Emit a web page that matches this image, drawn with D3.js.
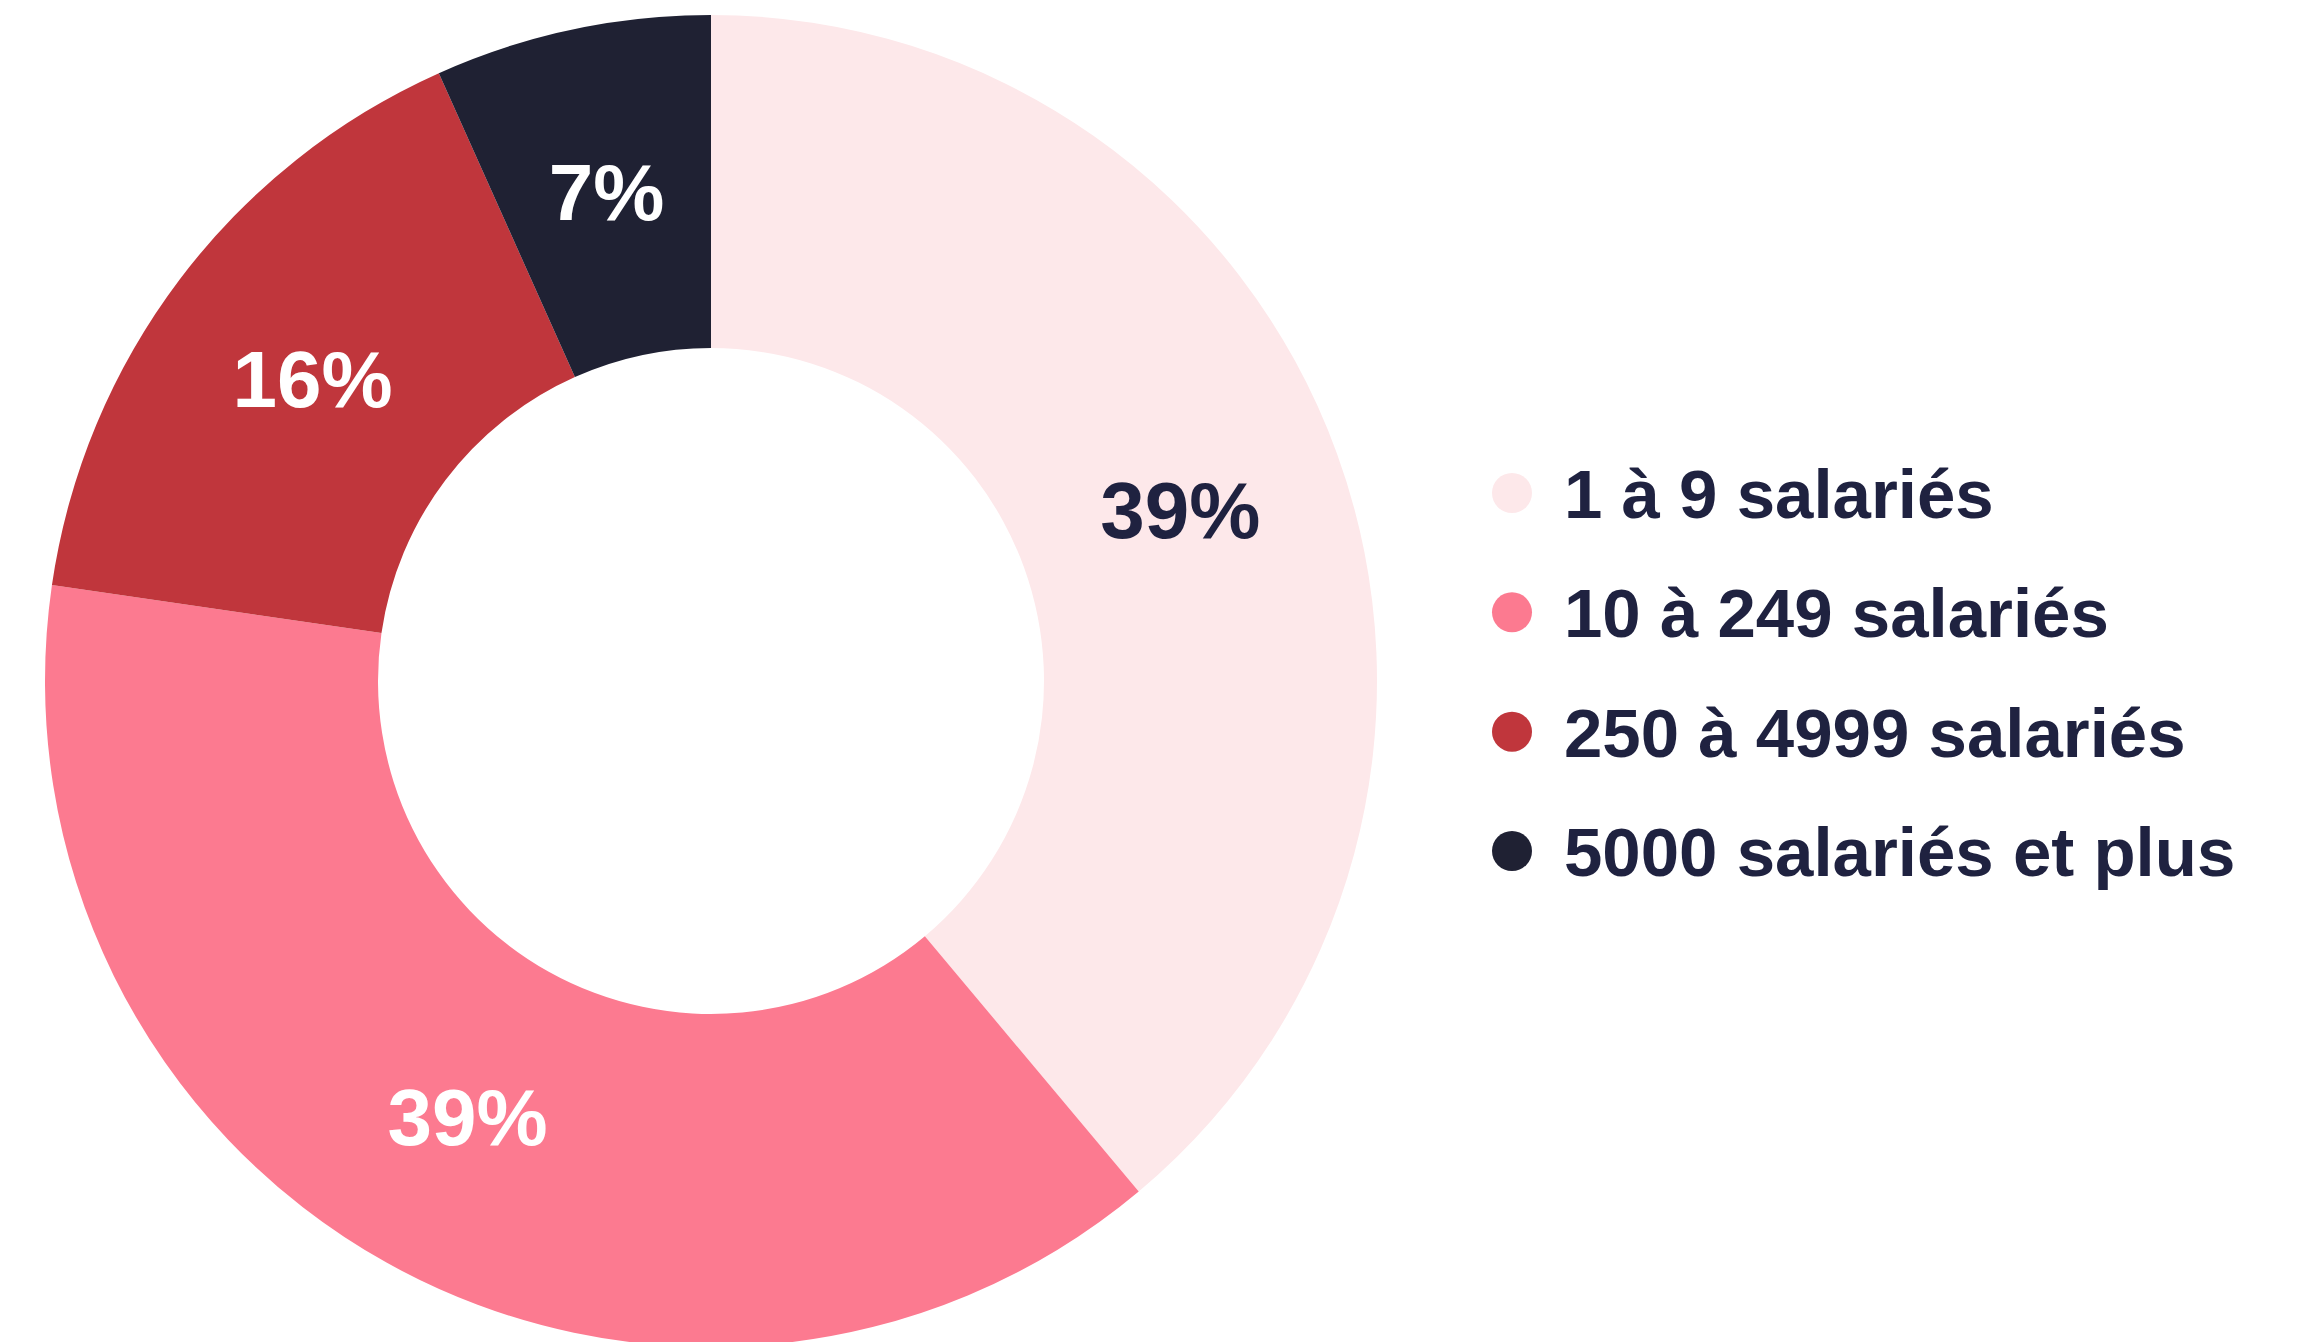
<!DOCTYPE html>
<html lang="fr">
<head>
    <meta charset="UTF-8">
    <title>Répartition par taille d'entreprise</title>
    <script src="https://d3js.org/d3.v7.min.js"></script>
    <style>
        body { margin: 0; background: white; }
        text {
            font-family: 'Liberation Sans', Arial, sans-serif;
            font-weight: bold;
        }
    </style>
</head>
<body>
<script>
    const width = 2300;
    const height = 1342;

    const categories = ['1 à 9 salariés', '10 à 249 salariés', '250 à 4999 salariés', '5000 salariés et plus'];
    // shares; labels are the rounded figures printed on the chart
    const values = [38.9, 38.4, 16.0, 6.7];
    const labels = ['39%', '39%', '16%', '7%'];
    const colors = ['#fde8ea', '#fc7a90', '#c0363c', '#1f2133'];
    const labelColors = ['#1f2240', 'white', 'white', 'white'];

    const cx = 711, cy = 681;
    const outer = 666, inner = 333;

    const svg = d3.select("body").append("svg").attr("width", width).attr("height", height);
    const chart = svg.append("g").attr("transform", `translate(${[cx, cy]})`);

    const pie = d3.pie().sort(null).value(d => d);
    const arc = d3.arc().innerRadius(inner).outerRadius(outer);
    const arcs = pie(values);

    chart.selectAll("path")
        .data(arcs).enter()
        .append("path")
        .attr("d", arc)
        .style("fill", (d, i) => colors[i]);

    chart.selectAll("text")
        .data(arcs).enter()
        .append("text")
        .text((d, i) => labels[i])
        .attr("x", d => arc.centroid(d)[0])
        .attr("y", d => arc.centroid(d)[1])
        .attr("text-anchor", "middle")
        .attr("dominant-baseline", "central")
        .style("font-size", "80px")
        .style("fill", (d, i) => labelColors[i]);

    const legendY = d3.scalePoint().domain(categories).range([493, 851]);

    const legend = svg.append("g");
    const item = legend.selectAll("g")
        .data(categories).enter()
        .append("g")
        .attr("transform", d => `translate(1512,${legendY(d)})`);

    item.append("circle")
        .attr("r", 20)
        .style("fill", (d, i) => colors[i]);

    item.append("text")
        .text(d => d)
        .attr("x", 52)
        .attr("y", 25)
        .style("font-size", "69px")
        .style("fill", "#1f2240");
</script>
</body>
</html>
